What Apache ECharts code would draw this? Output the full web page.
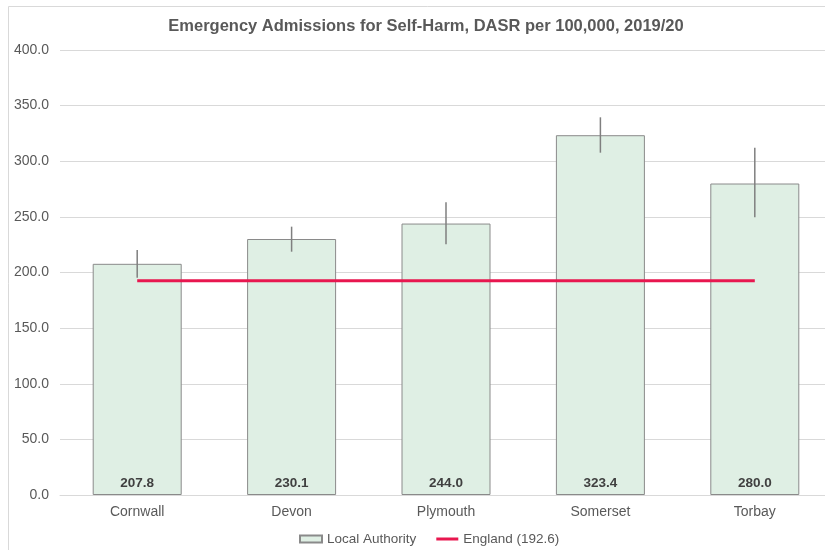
<!DOCTYPE html>
<html>
<head>
<meta charset="utf-8">
<script src="https://cdn.jsdelivr.net/npm/echarts@6/dist/echarts.min.js"></script>
<style>
  html, body { margin: 0; padding: 0; background: #ffffff; overflow: hidden; }
  #chart { width: 845px; height: 560px; }
</style>
</head>
<body>
<div id="chart"></div>
<script>
// Emergency admissions for self-harm, directly age-standardised rate per 100,000
const areas = ['Cornwall', 'Devon', 'Plymouth', 'Somerset', 'Torbay'];
const rates = [207.8, 230.1, 244.0, 323.4, 280.0];
const lowerCI = [195.2, 218.7, 225.3, 307.7, 249.6];
const upperCI = [220.3, 241.2, 263.1, 339.5, 312.2];
const englandRate = 192.6;
const englandLine = areas.map(() => englandRate);

const textColor = '#595959';
const fontFamily = '"Liberation Sans", Arial, sans-serif';

const chart = echarts.init(document.getElementById('chart'), null, { renderer: 'canvas' });

chart.setOption({
  backgroundColor: '#ffffff',
  animation: false,
  textStyle: { fontFamily: fontFamily },
  graphic: [{
    type: 'rect',
    silent: true,
    z: -10,
    shape: { x: 8.5, y: 6.5, width: 900, height: 600 },
    style: { fill: 'none', stroke: '#d9d9d9', lineWidth: 1 }
  }],
  title: {
    text: 'Emergency Admissions for Self-Harm, DASR per 100,000, 2019/20',
    left: 421,
    textAlign: 'center',
    top: 13,
    textStyle: { fontSize: 16.5, fontWeight: 'bold', color: textColor, fontFamily: fontFamily }
  },
  legend: {
    top: 527,
    left: 294,
    itemWidth: 22,
    itemHeight: 7,
    itemGap: 20,
    textStyle: { fontSize: 13.5, color: textColor, fontFamily: fontFamily },
    data: [
      { name: 'Local Authority', icon: 'rect' },
      { name: 'England (192.6)', icon: 'path://M0,0h22v3h-22z' }
    ]
  },
  grid: { left: 60, top: 50, width: 772, height: 445, containLabel: false },
  xAxis: {
    type: 'category',
    data: areas,
    axisLine: { lineStyle: { color: '#d9d9d9', width: 1 } },
    axisTick: { show: false },
    axisLabel: { color: textColor, fontSize: 14, margin: 10, fontFamily: fontFamily }
  },
  yAxis: {
    type: 'value',
    min: 0,
    max: 400,
    interval: 50,
    axisLine: { show: false },
    axisTick: { show: false },
    splitLine: { lineStyle: { color: '#d9d9d9', width: 1 } },
    axisLabel: {
      color: textColor,
      fontSize: 14,
      margin: 11,
      fontFamily: fontFamily,
      formatter: v => v.toFixed(1)
    }
  },
  series: [
    {
      name: 'Local Authority',
      type: 'bar',
      data: rates,
      barWidth: 89,
      itemStyle: { color: '#dfefe4', borderColor: '#8a8a8a', borderWidth: 1 },
      label: {
        show: true,
        position: 'insideBottom',
        distance: 5,
        formatter: p => p.value.toFixed(1),
        color: '#404040',
        fontSize: 13.5,
        fontWeight: 'bold',
        fontFamily: fontFamily
      },
      z: 2
    },
    {
      name: 'England (192.6)',
      type: 'line',
      data: englandLine,
      symbol: 'none',
      showSymbol: false,
      lineStyle: { color: '#e8174f', width: 3 },
      itemStyle: { color: '#e8174f' },
      z: 4
    },
    {
      name: 'CI',
      type: 'custom',
      data: areas.map((a, i) => [i, lowerCI[i], upperCI[i]]),
      encode: { x: 0, y: [1, 2] },
      z: 3,
      renderItem: function (params, api) {
        const idx = api.value(0);
        const lo = api.coord([idx, api.value(1)]);
        const hi = api.coord([idx, api.value(2)]);
        return {
          type: 'line',
          shape: { x1: lo[0], y1: lo[1], x2: hi[0], y2: hi[1] },
          style: { stroke: '#7f7f7f', lineWidth: 1.5 }
        };
      }
    }
  ]
});
</script>
</body>
</html>
